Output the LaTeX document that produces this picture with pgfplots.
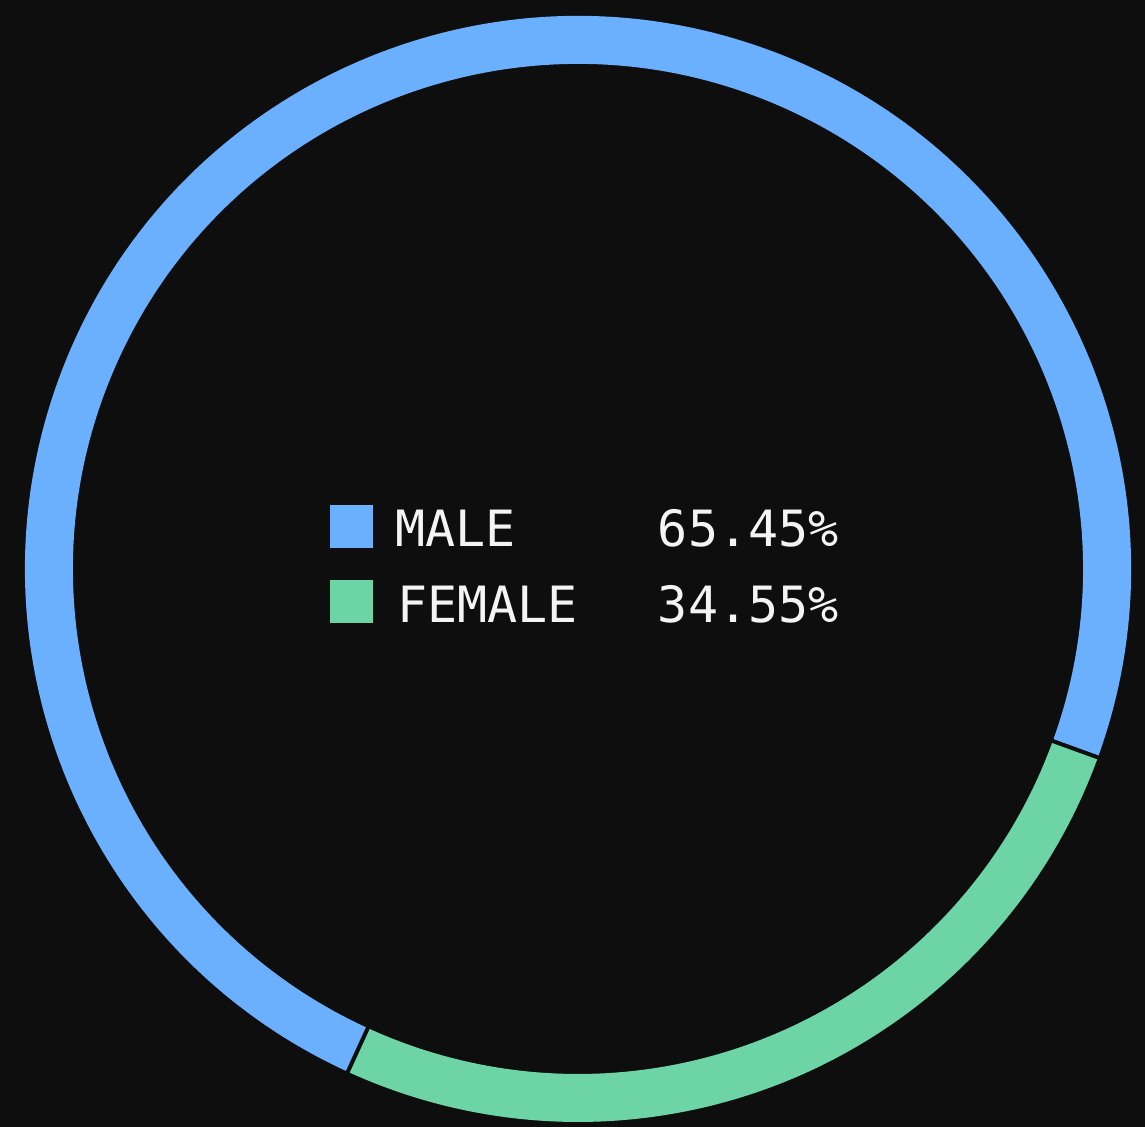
\documentclass[border=0pt]{standalone}
\usepackage{pgfplots}
\usepackage{pgfplotstable}
\usepackage{fontspec}
\setmonofont{DejaVu Sans Mono}
\usetikzlibrary{calc}
\pgfplotsset{compat=1.18}
\definecolor{bg}{HTML}{0E0E0E}
\definecolor{maleblue}{HTML}{6BAFFF}
\definecolor{femalegreen}{HTML}{6DD5A5}
\definecolor{labeltext}{HTML}{F4F4F4}

% arc share of the ring (percent of 360 deg) and the printed share
\pgfplotstableread{
name   arc   shown
Female 26.3  34.55
Male   73.7  65.45
}\gendertable

\begin{document}
\begin{tikzpicture}
\pgfplotstablegetelem{0}{arc}\of\gendertable \let\femarc\pgfplotsretval
\pgfplotstablegetelem{1}{arc}\of\gendertable \let\malearc\pgfplotsretval
\pgfmathsetmacro\angA{245.4}
\pgfmathsetmacro\angB{\angA+3.6*\femarc}
\pgfmathsetmacro\angC{\angB+3.6*\malearc}
\def\Ro{276.5pt}
\def\Ri{252.5pt}
\begin{axis}[
    x=0.5pt, y=0.5pt,
    xmin=0, xmax=1145,
    ymin=0, ymax=1127,
    hide axis,
    clip=false
]
\fill[bg] (axis cs:0,0) rectangle (axis cs:1145,1127);
\coordinate (c) at (axis cs:578,558);
% female slice
\fill[femalegreen] ($(c)+(\angA:\Ro)$) arc[start angle=\angA, end angle=\angB, radius=\Ro]
    -- ($(c)+(\angB:\Ri)$) arc[start angle=\angB, end angle=\angA, radius=\Ri] -- cycle;
% male slice
\fill[maleblue] ($(c)+(\angB:\Ro)$) arc[start angle=\angB, end angle=\angC, radius=\Ro]
    -- ($(c)+(\angC:\Ri)$) arc[start angle=\angC, end angle=\angB, radius=\Ri] -- cycle;
% thin gaps between slices
\draw[bg, line width=2pt] ($(c)+(\angA:250pt)$) -- ($(c)+(\angA:279pt)$);
\draw[bg, line width=2pt] ($(c)+(\angB:250pt)$) -- ($(c)+(\angB:279pt)$);

% legend in the middle
\fill[maleblue] (axis cs:330,579) rectangle (axis cs:373,622);
\fill[femalegreen] (axis cs:330,504) rectangle (axis cs:373,547);
\begin{scope}[every node/.style={inner sep=0pt, text=labeltext,
    font=\ttfamily\fontsize{25pt}{30pt}\selectfont}]
\node[anchor=base west] at (axis cs:395,580) {MALE};
\node[anchor=base west] at (axis cs:397,504) {FEMALE};
\node[anchor=base east] at (axis cs:839,580) {65.45\%};
\node[anchor=base east] at (axis cs:839,504) {34.55\%};
\end{scope}
\end{axis}
\pgfresetboundingbox
\useasboundingbox (current axis.south west) rectangle (current axis.north east);
\end{tikzpicture}
\end{document}
